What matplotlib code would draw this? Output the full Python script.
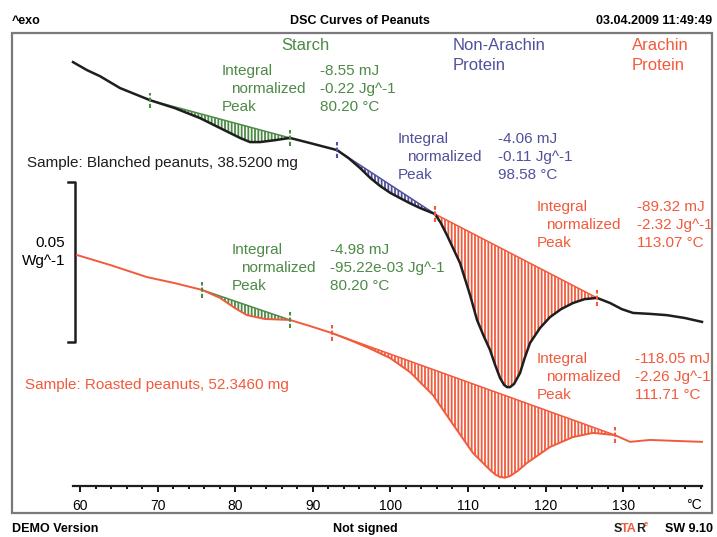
import numpy as np
import matplotlib.pyplot as plt
from matplotlib.patches import Rectangle

plt.rcParams['font.family'] = ['Liberation Sans', 'DejaVu Sans']
plt.rcParams['hatch.linewidth'] = 1.3

W, H = 717, 537

# DSC curves: temperature (°C) and heat flow (W/g, arbitrary offset)
blanched_temp = [59.10, 60.90, 62.58, 65.15, 69.02, 72.24, 75.46, 78.04, 80.62, 81.91, 83.20,
                 85.13, 87.06, 89.64, 93.12, 94.60, 96.08, 97.40, 98.66, 100.00, 101.24, 102.50,
                 103.81, 105.75, 106.50, 107.29, 108.10, 108.97, 110.26, 111.16, 112.00, 112.84,
                 113.50, 114.12, 114.65, 115.03, 115.41, 115.93, 116.70, 117.30, 117.99, 119.28,
                 120.57, 122.00, 123.53, 125.00, 126.62, 128.30, 129.80, 131.26, 133.45, 135.64,
                 137.96, 140.15]
blanched_hf = [0.1325, 0.1300, 0.1281, 0.1244, 0.1206, 0.1181, 0.1150, 0.1119, 0.1088, 0.1075,
               0.1075, 0.1081, 0.1088, 0.1072, 0.1050, 0.1025, 0.0994, 0.0963, 0.0938, 0.0916,
               0.0900, 0.0884, 0.0869, 0.0850, 0.0822, 0.0784, 0.0742, 0.0697, 0.0597, 0.0519,
               0.0470, 0.0425, 0.0378, 0.0338, 0.0316, 0.0309, 0.0309, 0.0319, 0.0353, 0.0400,
               0.0447, 0.0494, 0.0528, 0.0553, 0.0572, 0.0584, 0.0588, 0.0572, 0.0553, 0.0541,
               0.0538, 0.0534, 0.0525, 0.0513]

roasted_temp = [59.61, 63.87, 68.63, 72.24, 75.72, 78.04, 79.97, 81.52, 83.84, 87.06,
                89.64, 92.47, 94.79, 96.98, 99.95, 102.53, 105.49, 107.68, 110.64, 112.84,
                113.50, 114.12, 114.80, 115.41, 116.40, 117.60, 120.57, 123.53, 126.11, 128.94,
                130.88, 133.45, 136.68, 140.15]
roasted_hf = [0.0722, 0.0691, 0.0653, 0.0634, 0.0613, 0.0588, 0.0556, 0.0534, 0.0522, 0.0519,
              0.0500, 0.0478, 0.0456, 0.0434, 0.0400, 0.0356, 0.0284, 0.0206, 0.0103, 0.0050,
              0.0036, 0.0028, 0.0026, 0.0031, 0.0047, 0.0072, 0.0122, 0.0153, 0.0166, 0.0159,
              0.0138, 0.0144, 0.0141, 0.0138]

# integration limits (°C)
blanched_starch = (69.02, 87.06)
blanched_nonarachin = (93.12, 105.75)
blanched_arachin = (105.75, 126.62)
roasted_starch = (75.72, 87.06)
roasted_arachin = (92.47, 128.94)

# evaluation results
res_blanched_starch = ['-8.55 mJ', '-0.22 Jg^-1', '80.20 °C']
res_blanched_nonarachin = ['-4.06 mJ', '-0.11 Jg^-1', '98.58 °C']
res_blanched_arachin = ['-89.32 mJ', '-2.32 Jg^-1', '113.07 °C']
res_roasted_starch = ['-4.98 mJ', '-95.22e-03 Jg^-1', '80.20 °C']
res_roasted_arachin = ['-118.05 mJ', '-2.26 Jg^-1', '111.71 °C']

scale_bar = 0.05  # W/g

BLACK = '#1e1e1e'
RED = '#f25a3c'
GREEN = '#4c8a46'
BLUE = '#50509c'


def fp(x, y):
    # pixel -> figure fraction
    return x / W, 1 - y / H


fig = plt.figure(figsize=(W / 100, H / 100), dpi=100)
fig.patch.set_facecolor('white')
ax = fig.add_axes([73 / W, 1 - 486 / H, 629 / W, 453 / H])
ax.set_xlim(59.1, 140.15)
ax.set_ylim(0, 0.1416)
ax.patch.set_alpha(0)


def shade(t, hf, lim, color):
    t = np.array(t)
    hf = np.array(hf)
    m = (t >= lim[0] - 1e-6) & (t <= lim[1] + 1e-6)
    ts, hs = t[m], hf[m]
    base = np.interp(ts, [ts[0], ts[-1]], [hs[0], hs[-1]])
    ax.fill_between(ts, hs, base, facecolor='none', edgecolor=color, hatch='|||||',
                    linewidth=0, zorder=1)
    ax.plot([ts[0], ts[-1]], [hs[0], hs[-1]], color=color, lw=1.1, zorder=2)
    for x, y in [(ts[0], hs[0]), (ts[-1], hs[-1])]:
        ax.plot([x, x], [y - 0.0024, y + 0.0024], color=color, lw=1.5,
                ls=(0, (2, 1)), zorder=4)


shade(blanched_temp, blanched_hf, blanched_starch, GREEN)
shade(blanched_temp, blanched_hf, blanched_nonarachin, BLUE)
shade(blanched_temp, blanched_hf, blanched_arachin, RED)
shade(roasted_temp, roasted_hf, roasted_starch, GREEN)
shade(roasted_temp, roasted_hf, roasted_arachin, RED)

ax.plot(blanched_temp, blanched_hf, color=BLACK, lw=1.8, zorder=3, clip_on=False,
        solid_joinstyle='round')
ax.plot(roasted_temp, roasted_hf, color=RED, lw=1.4, zorder=3, clip_on=False,
        solid_joinstyle='round')

# scale bar 0.05 W/g
y0 = 0.045
ax.plot([58.45, 59.36, 59.36, 58.45], [y0 + scale_bar, y0 + scale_bar, y0, y0],
        color=BLACK, lw=1.8, clip_on=False)
fig.text(*fp(65, 243), '0.05', ha='right', va='center', fontsize=11)
fig.text(*fp(65, 261), 'Wg^-1', ha='right', va='center', fontsize=11)

# x axis
for s in ['left', 'right', 'top']:
    ax.spines[s].set_visible(False)
ax.spines['bottom'].set_linewidth(1.6)
ax.spines['bottom'].set_color(BLACK)
ax.set_yticks([])
ax.set_xticks(range(60, 131, 10))
ax.set_xticks(np.arange(60, 141, 2), minor=True)
ax.tick_params(axis='x', which='major', length=4.5, width=1.3, pad=5, labelsize=10)
ax.tick_params(axis='x', which='minor', length=2.5, width=1.3)
fig.text(*fp(702, 505), '°C', ha='right', va='center', fontsize=10)

# frame
fig.patches.append(Rectangle(fp(12, 513), 700 / W, 480 / H, transform=fig.transFigure,
                             facecolor='none', edgecolor='#7a7a7a', lw=1.6))

# header / footer
fig.text(*fp(12, 21), '^exo', ha='left', va='center', fontsize=9, fontweight='bold')
fig.text(*fp(360, 21), 'DSC Curves of Peanuts', ha='center', va='center', fontsize=9,
         fontweight='bold')
fig.text(*fp(712, 21), '03.04.2009 11:49:49', ha='right', va='center', fontsize=9,
         fontweight='bold')
fig.text(*fp(12, 529), 'DEMO Version', ha='left', va='center', fontsize=9, fontweight='bold')
fig.text(*fp(365, 529), 'Not signed', ha='center', va='center', fontsize=9, fontweight='bold')

# STARe logo, pieces chained left to right
renderer = fig.canvas.get_renderer()
x = 614
for piece, col, size, dy in [('S', BLACK, 9, 0), ('TA', RED, 9, 0), ('R', BLACK, 9, 0),
                             ('e', RED, 5.5, -4)]:
    t = fig.text(*fp(x, 529 + dy), piece, ha='left', va='center', fontsize=size,
                 fontweight='bold', color=col)
    x = t.get_window_extent(renderer).x1 - 1.2
fig.text(*fp(713, 529), 'SW 9.10', ha='right', va='center', fontsize=9, fontweight='bold')

# peak names
fig.text(*fp(305, 46), 'Starch', ha='center', va='center', fontsize=12, color=GREEN)
fig.text(*fp(453, 45), 'Non-Arachin', ha='left', va='center', fontsize=12, color=BLUE)
fig.text(*fp(453, 65), 'Protein', ha='left', va='center', fontsize=12, color=BLUE)
fig.text(*fp(632, 45), 'Arachin', ha='left', va='center', fontsize=12, color=RED)
fig.text(*fp(632, 65), 'Protein', ha='left', va='center', fontsize=12, color=RED)

# samples
fig.text(*fp(27, 163), 'Sample: Blanched peanuts, 38.5200 mg', ha='left', va='center',
         fontsize=11, color=BLACK)
fig.text(*fp(25, 385), 'Sample: Roasted peanuts, 52.3460 mg', ha='left', va='center',
         fontsize=11, color=RED)


def results(x, y, vx, values, color):
    names = ['Integral', 'normalized', 'Peak']
    for i in range(3):
        fig.text(*fp(x + (9 if i == 1 else 0), y + 18 * i), names[i], ha='left', va='center',
                 fontsize=11, color=color)
        fig.text(*fp(vx, y + 18 * i), values[i], ha='left', va='center', fontsize=11,
                 color=color)


results(222, 71, 320, res_blanched_starch, GREEN)
results(398, 139, 498, res_blanched_nonarachin, BLUE)
results(537, 207, 637, res_blanched_arachin, RED)
results(232, 250, 330, res_roasted_starch, GREEN)
results(537, 359, 635, res_roasted_arachin, RED)

fig.savefig('out.png', dpi=100)
